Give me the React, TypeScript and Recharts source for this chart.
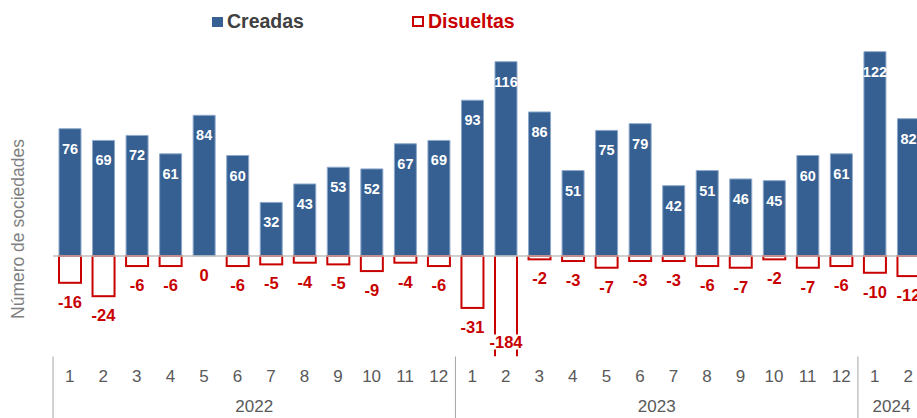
import { Bar, BarChart, LabelList, ReferenceLine, XAxis, YAxis } from 'recharts';

const YEARS = ['2022', '2023', '2024'];
const MONTHS_IN_YEAR = [12, 12, 2];
const MONTH_LABELS = ['1', '2', '3', '4', '5', '6', '7', '8', '9', '10', '11', '12'];
const CREADAS = [76, 69, 72, 61, 84, 60, 32, 43, 53, 52, 67, 69, 93, 116, 86, 51, 75, 79, 42, 51, 46, 45, 60, 61, 122, 82];
const DISUELTAS = [-16, -24, -6, -6, 0, -6, -5, -4, -5, -9, -4, -6, -31, -184, -2, -3, -7, -3, -3, -6, -7, -2, -7, -6, -10, -12];
const Y_DOMAIN = [-60, 140];

const BLUE = '#366092';
const RED = '#c80000';
const GRID = '#bfbfbf';
const FONT = '"Liberation Sans", Arial, sans-serif';

const W = 940;
const H = 418;
const MARGIN = { top: 21.5, right: 15, left: 53, bottom: 0 };
const X_AXIS_H = 61.5;
const PLOT_BOTTOM = H - X_AXIS_H;
const HALF_BAND = (W - MARGIN.left - MARGIN.right) / CREADAS.length / 2;
const BAR_W = 22;

type Row = { key: string; year: string; month: string; count: number; creadas: number; disueltas: number };

const data: Row[] = [];
YEARS.forEach((year, yi) => {
  for (let m = 0; m < MONTHS_IN_YEAR[yi]; m++) {
    const i = data.length;
    data.push({
      key: `${year}-${MONTH_LABELS[m]}`,
      year,
      month: MONTH_LABELS[m],
      count: MONTHS_IN_YEAR[yi],
      creadas: CREADAS[i],
      disueltas: DISUELTAS[i],
    });
  }
});

function box(p: any) {
  const v = p.viewBox && p.viewBox.width != null ? p.viewBox : p;
  const top = Math.min(v.y, v.y + v.height);
  return { x: v.x, w: v.width, top, bottom: top + Math.abs(v.height) };
}

function AxisTick({ x, payload }: any) {
  const d = data.find((r) => r.key === payload.value);
  if (!d) return null;
  const half = payload.offset || HALF_BAND;
  return (
    <g fontFamily={FONT}>
      <text x={x} y={PLOT_BOTTOM + 20} textAnchor="middle" dominantBaseline="central" fontSize={17} fill="#595959">
        {d.month}
      </text>
      {d.month === '1' && (
        <>
          <line x1={x - half} x2={x - half} y1={PLOT_BOTTOM} y2={H} stroke="#a6a6a6" strokeWidth={1} />
          <text
            x={x - half + d.count * half}
            y={PLOT_BOTTOM + 50}
            textAnchor="middle"
            dominantBaseline="central"
            fontSize={17}
            fill="#595959"
          >
            {d.year}
          </text>
        </>
      )}
    </g>
  );
}

// value lower than the axis minimum -> bar is drawn broken at the bottom
const offScale = (v: number) => v < Y_DOMAIN[0];

function DisShape(props: any) {
  const { x, w, top, bottom } = box(props);
  if (bottom - top < 0.5) return null;
  if (offScale(props.payload?.disueltas)) {
    const end = Math.min(bottom, PLOT_BOTTOM);
    return (
      <g stroke={RED} strokeWidth={2}>
        <line x1={x} x2={x} y1={top} y2={end - 22} />
        <line x1={x + w} x2={x + w} y1={top} y2={end - 22} />
        <line x1={x} x2={x} y1={end - 7} y2={end} />
        <line x1={x + w} x2={x + w} y1={end - 7} y2={end} />
      </g>
    );
  }
  return <rect x={x} y={top} width={w} height={bottom - top} fill="#ffffff" stroke={RED} strokeWidth={2} />;
}

function CreadasLabel(props: any) {
  const { x, w, top } = box(props);
  return (
    <text
      x={x + w / 2}
      y={top + 20}
      textAnchor="middle"
      dominantBaseline="central"
      fontFamily={FONT}
      fontWeight="bold"
      fontSize={14.5}
      fill="#ffffff"
    >
      {props.value}
    </text>
  );
}

function DisLabel(props: any) {
  const { x, w, bottom } = box(props);
  const y = offScale(props.value) ? Math.min(bottom, PLOT_BOTTOM) - 15 : bottom + 19;
  return (
    <text
      x={x + w / 2}
      y={y}
      textAnchor="middle"
      dominantBaseline="central"
      fontFamily={FONT}
      fontWeight="bold"
      fontSize={16.5}
      fill={RED}
    >
      {props.value}
    </text>
  );
}

export default function App() {
  return (
    <div
      style={{
        position: 'fixed',
        left: 0,
        top: 0,
        width: 917,
        height: H,
        overflow: 'hidden',
        background: '#ffffff',
        fontFamily: FONT,
      }}
    >
      <div style={{ position: 'absolute', left: 212, top: 10, display: 'flex', alignItems: 'center', fontSize: 19.5, fontWeight: 'bold' }}>
        <span style={{ display: 'inline-block', width: 11, height: 10, background: BLUE, marginRight: 4 }} />
        <span style={{ color: '#404040' }}>Creadas</span>
        <span
          style={{
            display: 'inline-block',
            width: 8,
            height: 7,
            border: `2px solid ${RED}`,
            marginLeft: 108,
            marginRight: 4,
          }}
        />
        <span style={{ color: RED }}>Disueltas</span>
      </div>

      <div
        style={{
          position: 'absolute',
          left: 18,
          top: 229,
          transform: 'translate(-50%, -50%) rotate(-90deg)',
          whiteSpace: 'nowrap',
          fontSize: 17.5,
          color: '#7f7f7f',
        }}
      >
        Número de sociedades
      </div>

      <BarChart width={W} height={H} data={data} margin={MARGIN} barSize={BAR_W} barGap={-BAR_W}>
        <XAxis
          dataKey="key"
          axisLine={false}
          tickLine={false}
          interval={0}
          height={X_AXIS_H}
          tick={<AxisTick />}
        />
        <YAxis hide domain={Y_DOMAIN} allowDataOverflow />
        <ReferenceLine y={0} stroke={GRID} strokeWidth={1.5} />
        <Bar dataKey="creadas" fill={BLUE} stroke="#8ea9cc" strokeWidth={1} isAnimationActive={false}>
          <LabelList dataKey="creadas" content={<CreadasLabel />} />
        </Bar>
        <Bar dataKey="disueltas" shape={<DisShape />} isAnimationActive={false}>
          <LabelList dataKey="disueltas" content={<DisLabel />} />
        </Bar>
      </BarChart>
    </div>
  );
}
